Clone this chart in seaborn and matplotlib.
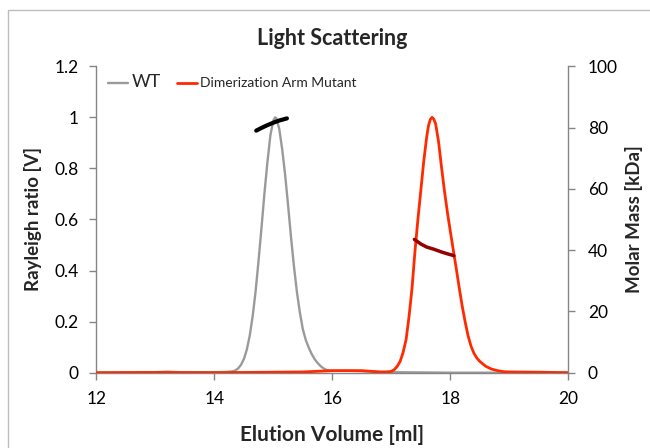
import matplotlib
matplotlib.use("Agg")
import numpy as np
import pandas as pd
import matplotlib.pyplot as plt
import seaborn as sns
from matplotlib.lines import Line2D
from matplotlib.patches import Rectangle

# ---------------- data ----------------
wt_volume = [12.0, 12.5, 13.0, 13.2, 13.4, 13.8, 14.0, 14.2, 14.3, 14.35, 14.40, 14.45,
             14.50, 14.55, 14.60, 14.65, 14.70, 14.75, 14.80, 14.85, 14.90, 14.95,
             15.00, 15.03, 15.05, 15.10, 15.15, 15.20, 15.25, 15.30, 15.35, 15.40,
             15.45, 15.50, 15.55, 15.60, 15.65, 15.70, 15.75, 15.80, 15.85, 15.90,
             15.95, 16.00, 16.2, 16.5, 16.8, 17.0, 17.5, 18.0, 19.0, 20.0]
wt_signal = [0.0, 0.001, 0.002, 0.004, 0.002, 0.002, 0.002, 0.003, 0.005, 0.008, 0.016, 0.030,
             0.053, 0.090, 0.145, 0.222, 0.320, 0.440, 0.570, 0.705, 0.825, 0.930,
             0.988, 1.0, 0.997, 0.955, 0.875, 0.775, 0.655, 0.530, 0.415, 0.315,
             0.235, 0.170, 0.128, 0.098, 0.073, 0.053, 0.038, 0.026, 0.017, 0.011,
             0.008, 0.007, 0.008, 0.006, 0.003, 0.002, 0.001, 0.0, 0.0, 0.0]

mut_volume = [12.0, 13.0, 14.0, 15.0, 15.5, 16.0, 16.5, 16.8, 16.9, 17.00, 17.05, 17.10,
              17.15, 17.20, 17.25, 17.30, 17.35, 17.40, 17.45, 17.50, 17.55, 17.60,
              17.63, 17.66, 17.69, 17.72, 17.75, 17.80, 17.85, 17.90, 17.95, 18.00,
              18.05, 18.10, 18.15, 18.20, 18.25, 18.30, 18.35, 18.40, 18.45, 18.50,
              18.60, 18.70, 18.80, 18.90, 19.0, 19.5, 20.0]
mut_signal = [0.0, 0.001, 0.0, 0.002, 0.003, 0.008, 0.008, 0.003, 0.003, 0.005, 0.012, 0.025,
              0.045, 0.080, 0.130, 0.220, 0.330, 0.475, 0.600, 0.715, 0.830, 0.925,
              0.968, 0.992, 1.0, 0.993, 0.975, 0.905, 0.805, 0.712, 0.628, 0.553,
              0.480, 0.408, 0.333, 0.262, 0.200, 0.145, 0.104, 0.076, 0.057, 0.044,
              0.025, 0.014, 0.008, 0.004, 0.003, 0.002, 0.0]

wt_mass_volume = [14.71, 14.80, 14.90, 15.00, 15.10, 15.23]
wt_mass = [79.0, 79.9, 80.8, 81.6, 82.3, 83.0]

mut_mass_volume = [17.39, 17.50, 17.60, 17.72, 17.85, 17.95, 18.06]
mut_mass = [43.5, 42.0, 41.0, 40.3, 39.4, 38.8, 38.2]

x_ticks = [12, 14, 16, 18, 20]
left_ticks = [0, 0.2, 0.4, 0.6, 0.8, 1.0, 1.2]
left_tick_labels = ["0", "0.2", "0.4", "0.6", "0.8", "1", "1.2"]
right_ticks = [0, 20, 40, 60, 80, 100]

series_names = ["WT", "Dimerization Arm Mutant"]
title_text = "Light Scattering"
x_label = "Elution Volume [ml]"
left_label = "Rayleigh ratio [V]"
right_label = "Molar Mass [kDa]"

# ---------------- styling ----------------
sns.set_style("white")
plt.rcParams['font.family'] = ['Lato', 'DejaVu Sans']

gray_col = "#9a9a9a"
red_col = "#ff2a00"
dark_red = "#950000"
axis_col = "#858585"

fig = plt.figure(figsize=(6.5, 4.48), dpi=100)
ax = fig.add_axes([0.1482, 0.1681, 0.7262, 0.6839])

df_wt = pd.DataFrame({"volume": wt_volume, "signal": wt_signal})
df_mut = pd.DataFrame({"volume": mut_volume, "signal": mut_signal})
sns.lineplot(data=df_wt, x="volume", y="signal", ax=ax, color=gray_col, lw=1.7,
             sort=False, estimator=None, zorder=2)
sns.lineplot(data=df_mut, x="volume", y="signal", ax=ax, color=red_col, lw=2.0,
             sort=False, estimator=None, zorder=3)

ax.set_xlim(12, 20)
ax.set_ylim(0, 1.2)
ax.set_xticks(x_ticks)
ax.set_xticklabels([str(t) for t in x_ticks])
ax.set_yticks(left_ticks)
ax.set_yticklabels(left_tick_labels)
ax.set_xlabel(x_label, fontsize=15, fontweight="bold", labelpad=13)
ax.set_ylabel(left_label, fontsize=13.5, fontweight="bold", labelpad=9)
ax.set_title(title_text, fontsize=15.5, fontweight="bold", pad=15)

ax2 = ax.twinx()
df_wm = pd.DataFrame({"volume": wt_mass_volume, "mass": wt_mass})
df_mm = pd.DataFrame({"volume": mut_mass_volume, "mass": mut_mass})
sns.lineplot(data=df_wm, x="volume", y="mass", ax=ax2, color="black", lw=3.0,
             sort=False, estimator=None, solid_capstyle="round")
sns.lineplot(data=df_mm, x="volume", y="mass", ax=ax2, color=dark_red, lw=2.5,
             sort=False, estimator=None, solid_capstyle="round")
ax2.set_ylim(0, 100)
ax2.set_yticks(right_ticks)
ax2.set_yticklabels([str(t) for t in right_ticks])
ax2.set_ylabel(right_label, fontsize=13.5, fontweight="bold", labelpad=5)

for a in (ax, ax2):
    a.spines["top"].set_visible(False)
    for s in ("left", "right", "bottom"):
        a.spines[s].set_color(axis_col)
        a.spines[s].set_linewidth(1.0)
    a.tick_params(direction="out", length=5, width=1, color=axis_col,
                  labelsize=12.5, labelcolor="black")
ax.spines["right"].set_visible(False)
ax2.spines["left"].set_visible(False)
ax2.spines["bottom"].set_visible(False)
ax.tick_params(axis="y", left=True, right=False, pad=8)
ax.tick_params(axis="x", bottom=True, pad=8)
ax2.tick_params(axis="y", right=True, left=False, pad=9)
ax2.set_xlabel("")
ax2.grid(False)
ax.grid(False)

handles = [Line2D([0], [0], color=gray_col, lw=1.7),
           Line2D([0], [0], color=red_col, lw=2.0)]
leg = ax.legend(handles, series_names, loc="upper left", ncol=2, frameon=False,
                handlelength=1.4, handletextpad=0.25, columnspacing=1.2,
                bbox_to_anchor=(0.005, 1.005), borderaxespad=0.3)
leg.get_texts()[0].set_fontsize(13)
leg.get_texts()[1].set_fontsize(10)

fig.patches.append(Rectangle((8 / 650, -0.2), 1.5, 1.2 - 10 / 448,
                             transform=fig.transFigure, fill=False,
                             edgecolor="#bdbdbd", lw=1.0))

fig.savefig("out.png", dpi=100)
